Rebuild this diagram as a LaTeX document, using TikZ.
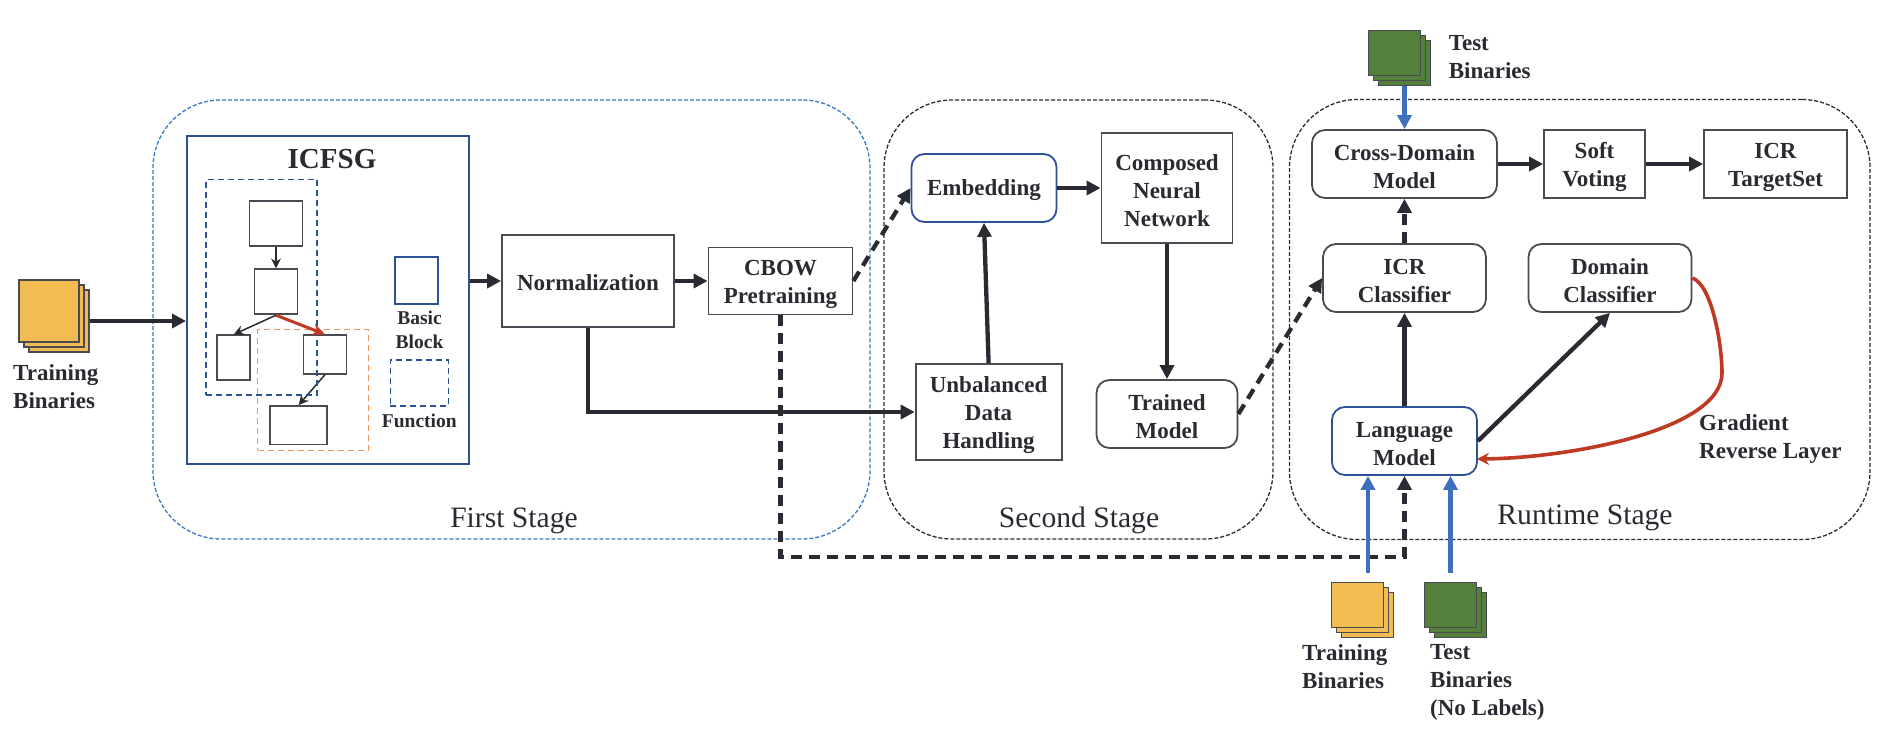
\documentclass[tikz,border=0pt]{standalone}
\usepackage{fontspec}
\setmainfont{Liberation Serif}
\usepackage{xcolor}
\usetikzlibrary{positioning, calc, arrows.meta}
\definecolor{inkdark}{HTML}{2A2A33}
\definecolor{navyline}{HTML}{2C5196}
\definecolor{frameblue}{HTML}{3B78C0}
\definecolor{inputblue}{HTML}{3F6FBF}
\definecolor{reverse}{HTML}{BF3A22}
\definecolor{funcorange}{HTML}{F0935A}
\definecolor{cardyellow}{HTML}{F2BC52}
\definecolor{cardgreen}{HTML}{54803C}
\newcommand{\lowtext}{\rule{0pt}{21.5pt}}
\tikzset{
    lab/.style={inner sep=0pt, text=inkdark, align=left, font=\fontsize{23}{28}\selectfont\bfseries},
    tinylab/.style={lab, align=center, font=\fontsize{19.5}{24}\selectfont\bfseries},
    stagelab/.style={inner sep=0pt, text=inkdark, font=\fontsize{29.6}{34}\selectfont},
    stageframe/.style={draw=inkdark, line width=1.3pt, dash pattern=on 4pt off 2pt, rounded corners=68pt, inner sep=0pt},
    plainbox/.style={draw=inkdark!85, line width=1.8pt, inner sep=0pt, text=inkdark, align=center, font=\fontsize{23}{28}\selectfont\bfseries, execute at begin node={\rule{0pt}{19.5pt}}},
    roundbox/.style={plainbox, rounded corners=13pt},
    bluebox/.style={roundbox, draw=navyline},
    block/.style={draw=inkdark!85, line width=1.8pt, inner sep=0pt},
    card/.style={draw=inkdark!85, line width=1.5pt, inner sep=0pt, minimum width=52pt, minimum height=45pt},
    flow/.style={draw=inkdark, line width=4.3pt, -{Triangle[length=14pt,width=14pt]}},
    flowdash/.style={flow, dash pattern=on 11pt off 7pt},
    inflow/.style={flow, draw=inputblue},
    thinflow/.style={draw=inkdark, line width=1.5pt, -{Stealth[length=10pt,width=10pt]}}
}
\begin{document}
\begin{tikzpicture}[x=1pt, y=-1pt]
    \useasboundingbox (0,0) rectangle (1888,742);

    % ---------------------------------------------------
    % 1. Stage frames
    % ---------------------------------------------------
    \node[stageframe, draw=frameblue, minimum width=717pt, minimum height=439pt] (firststage) at (511.5,319.5) {};
    \node[stageframe, minimum width=389pt, minimum height=439pt] (secondstage) at (1078.5,319.5) {};
    \node[stageframe, minimum width=580.5pt, minimum height=440pt] (runtimestage) at (1579.75,319.5) {};

    \node[stagelab] (firstlab) at (514,520.5) {First Stage};
    \node[stagelab] (secondlab) at (1079,520.5) {Second Stage};
    \node[stagelab] (runtimelab) at (1585,517.5) {Runtime Stage};

    % ---------------------------------------------------
    % 2. Training input and ICFSG
    % ---------------------------------------------------
    \node[card, fill=cardyellow, minimum width=60pt, minimum height=62pt] (trainC) at (59,321) {};
    \node[card, fill=cardyellow, minimum width=60pt, minimum height=62pt] (trainB) at (54,316) {};
    \node[card, fill=cardyellow, minimum width=60pt, minimum height=62pt] (trainA) at (49,311) {};
    \node[lab, anchor=west] (trainlab) at (13,387) {Training\\Binaries};

    \node[draw=navyline, line width=2pt, inner sep=0pt, minimum width=282pt, minimum height=328pt] (icfsg) at (328,300) {};
    \node[lab, font=\fontsize{29}{34}\selectfont\bfseries] (icfsglab) at (332,159) {ICFSG};

    % Basic blocks
    \node[block, minimum width=53pt, minimum height=45pt] (blockA) at (276,223.4) {};
    \node[block, minimum width=43pt, minimum height=45pt] (blockB) at (276,291.8) {};
    \node[block, minimum width=33pt, minimum height=45pt] (blockC) at (233.8,357.8) {};
    \node[block, minimum width=43pt, minimum height=38.5pt] (blockD) at (325,354.5) {};
    \node[block, minimum width=57pt, minimum height=38.5pt] (blockE) at (298.6,425.2) {};

    \draw[thinflow] (blockA.south) -- (blockB.north);
    \draw[thinflow] (blockB.south) -- (blockC.north);
    \draw[thinflow] (blockD.south) -- (blockE.north);

    % Function groups
    \node[draw=navyline, line width=1.5pt, dash pattern=on 6pt off 4pt, inner sep=0pt, minimum width=111pt, minimum height=215.7pt] (funcblue) at (261.5,287.2) {};
    \node[draw=funcorange, line width=1.5pt, dash pattern=on 6pt off 4pt, inner sep=0pt, minimum width=110.6pt, minimum height=120.6pt] (funcorange) at (313,390) {};
    \draw[draw=reverse, line width=3pt, -{Stealth[length=13pt,width=12pt]}] (blockB.south) -- (blockD.north);

    % Legend
    \node[draw=navyline, line width=1.8pt, inner sep=0pt, minimum width=43pt, minimum height=46.7pt] (legendblock) at (416.8,280.6) {};
    \node[tinylab] (legendblocklab) at (419.5,330.3) {Basic\\Block};
    \node[draw=navyline, line width=1.5pt, dash pattern=on 6pt off 4pt, inner sep=0pt, minimum width=58pt, minimum height=46pt] (legendfunc) at (419.3,383) {};
    \node[tinylab] (legendfunclab) at (419.3,421) {Function};

    \draw[flow] (trainC.east) -- (trainC.east -| icfsg.west);

    % ---------------------------------------------------
    % 3. Pretraining
    % ---------------------------------------------------
    \node[plainbox, minimum width=172pt, minimum height=92pt] (norm) at (588,281) {Normalization};
    \node[plainbox, minimum width=144pt, minimum height=67pt] (cbow) at (780.5,281) {\lowtext CBOW\\Pretraining};

    \draw[flow] (icfsg.east |- norm.west) -- (norm.west);
    \draw[flow] (norm.east) -- (cbow.west);

    % ---------------------------------------------------
    % 4. Second stage
    % ---------------------------------------------------
    \node[bluebox, minimum width=145pt, minimum height=68pt] (embedding) at (984,188) {Embedding};
    \node[plainbox, minimum width=131pt, minimum height=110pt] (composed) at (1167,188) {\lowtext Composed\\Neural\\Network};
    \node[plainbox, minimum width=146pt, minimum height=96pt] (unbalanced) at (988.6,412) {\lowtext Unbalanced\\Data\\Handling};
    \node[roundbox, minimum width=141pt, minimum height=68pt] (trained) at (1167,414) {\lowtext Trained\\Model};

    \draw[flowdash] (cbow.east) -- (embedding.west);
    \draw[flow] (unbalanced.north) -- (embedding.south);
    \draw[flow] (embedding.east) -- (composed.west);
    \draw[flow] (composed.south) -- (trained.north);
    \draw[flow] (norm.south) |- (unbalanced.west);

    % ---------------------------------------------------
    % 5. Runtime stage
    % ---------------------------------------------------
    \node[roundbox, minimum width=185pt, minimum height=68pt] (crossdomain) at (1404.5,164) {\lowtext Cross-Domain\\Model};
    \node[plainbox, minimum width=101pt, minimum height=68pt] (softvoting) at (1594.5,164) {\lowtext Soft\\Voting};
    \node[plainbox, minimum width=143pt, minimum height=68pt] (targetset) at (1775.5,164) {\lowtext ICR\\TargetSet};
    \node[roundbox, minimum width=163pt, minimum height=68pt] (icrclass) at (1404.5,278) {\lowtext ICR\\Classifier};
    \node[roundbox, minimum width=163pt, minimum height=68pt] (domainclass) at (1610,278) {\lowtext Domain\\Classifier};
    \node[bluebox, minimum width=145pt, minimum height=68pt] (language) at (1404.5,441) {\lowtext Language\\Model};

    \draw[flow] (crossdomain.east) -- (softvoting.west);
    \draw[flow] (softvoting.east) -- (targetset.west);
    \draw[flowdash] (icrclass.north) -- (crossdomain.south);
    \draw[flow] (language.north) -- (icrclass.south);
    \draw[flow] (language.east) -- (domainclass.south);
    \draw[flowdash] (trained.east) -- (icrclass.west);

    % Gradient reversal
    \coordinate (gradend) at (1477,459);
    \draw[draw=reverse, line width=3.6pt, -{Stealth[length=12pt,width=12pt]}] (domainclass.east) .. controls (1712,285) and (1722,345) .. (1722,373) .. controls (1722,430) and (1570,458) .. (gradend);
    \node[lab, anchor=west] (gradlab) at (1699,439) {Gradient\\Reverse Layer};

    % ---------------------------------------------------
    % 6. Test and runtime inputs
    % ---------------------------------------------------
    \node[card, fill=cardgreen] (topC) at (1404.5,63) {};
    \node[card, fill=cardgreen] (topB) at (1399.5,58) {};
    \node[card, fill=cardgreen] (topA) at (1394.5,53) {};
    \node[lab, anchor=west] (toplab) at (1448.6,56.7) {Test\\Binaries};
    \draw[inflow] (topC.south) -- (crossdomain.north);

    \node[card, fill=cardyellow] (lowtrainC) at (1367.5,615) {};
    \node[card, fill=cardyellow] (lowtrainB) at (1362.5,610) {};
    \node[card, fill=cardyellow] (lowtrainA) at (1357.5,605) {};
    \node[lab, anchor=west] (lowtrainlab) at (1302,667) {Training\\Binaries};

    \node[card, fill=cardgreen] (lowtestC) at (1460.5,615) {};
    \node[card, fill=cardgreen] (lowtestB) at (1455.5,610) {};
    \node[card, fill=cardgreen] (lowtestA) at (1450.5,605) {};
    \node[lab, anchor=west] (lowtestlab) at (1430,682) {Test\\Binaries\\(No Labels)};

    % CBOW output reaches the language model from below
    \coordinate (dashturn) at (1404.5,556.7);
    \draw[flowdash] (cbow.south) |- (dashturn) -- (language.south);

    \coordinate (lowtrainout) at (1368,573);
    \coordinate (lowtestout) at (1450.5,573);
    \draw[inflow] (lowtrainout) -- (lowtrainout |- language.south);
    \draw[inflow] (lowtestout) -- (lowtestout |- language.south);

\end{tikzpicture}
\end{document}
